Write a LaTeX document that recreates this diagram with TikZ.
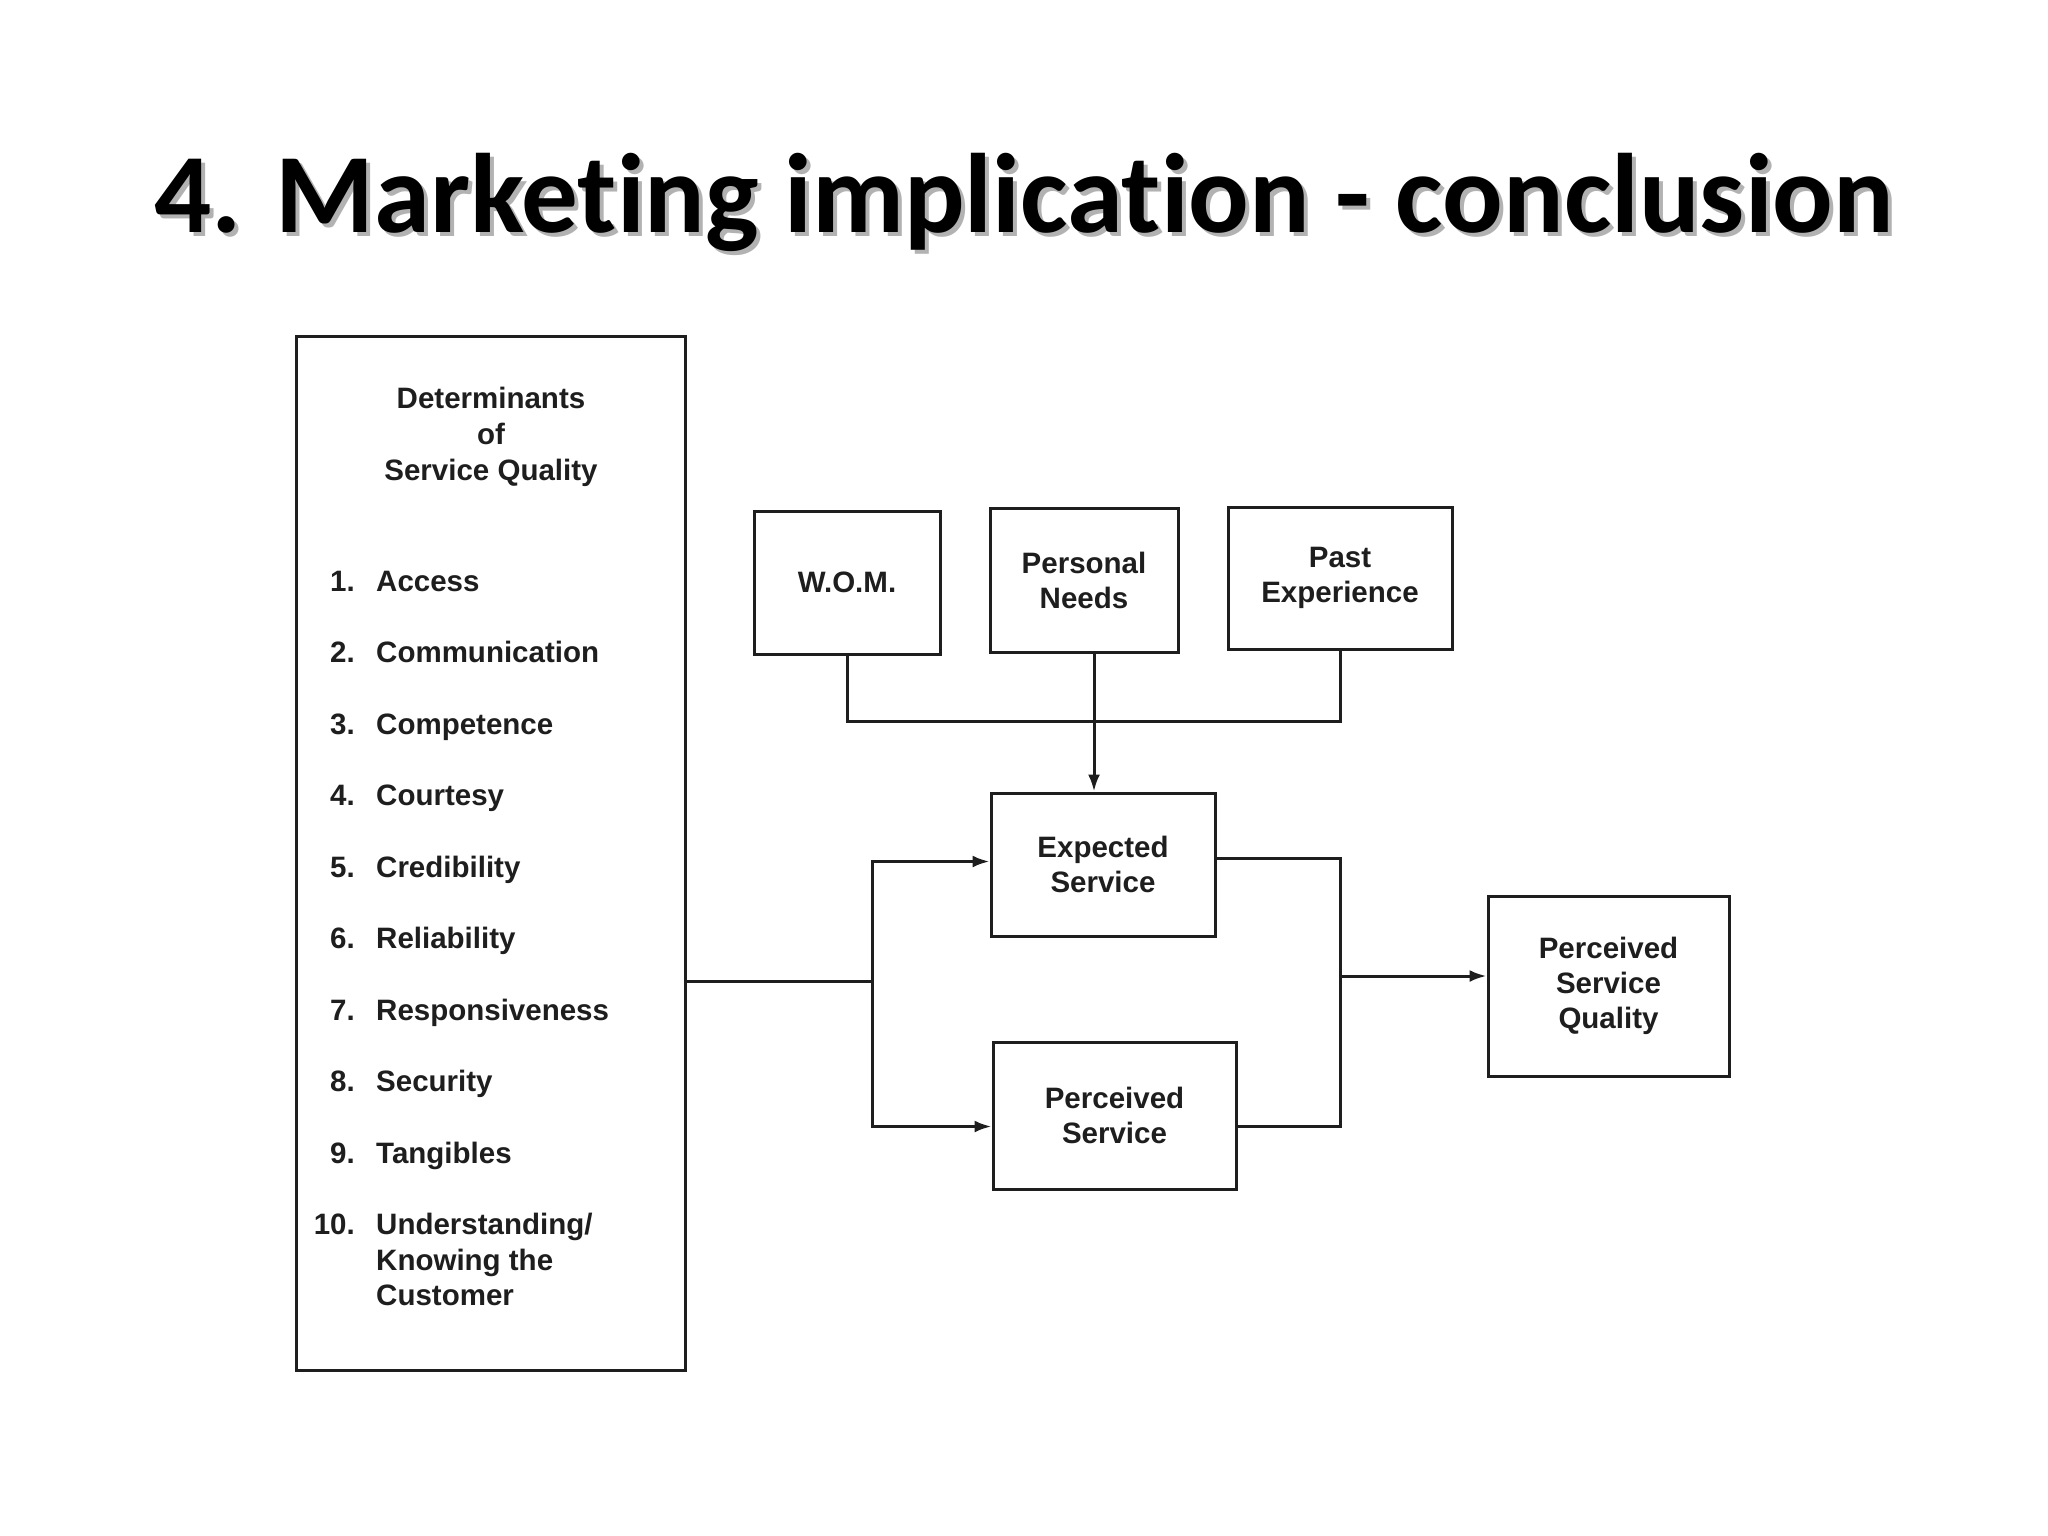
\documentclass[tikz,border=0pt]{standalone}
\usepackage{fontspec}
\setmainfont{Liberation Sans}
\newfontfamily\titlefont[Ligatures=NoCommon]{Carlito}
\usetikzlibrary{arrows.meta}
\definecolor{ink}{RGB}{30,30,30}
\begin{document}
\begin{tikzpicture}[x=1pt,y=-1pt,
  box/.style={draw=ink, line width=3pt, inner sep=0pt},
  lbl/.style={font=\fontsize{29.5}{35}\selectfont\bfseries, text=ink, align=center},
  item/.style={font=\fontsize{29.5}{35}\selectfont\bfseries, text=ink, inner sep=0pt},
  conn/.style={draw=ink, line width=3pt},
  arr/.style={conn, -{Latex[length=17pt,width=12pt]}},
  ttl/.style={font=\titlefont\fontsize{113}{130}\selectfont\bfseries, inner sep=0pt, anchor=base}
]
\useasboundingbox (0,0) rectangle (2048,1536);
\fill[white] (0,0) rectangle (2048,1536);

% title with soft shadow
\node[ttl, text=black!30] (titleshadow) at (1028,236) {4. Marketing implication - conclusion};
\node[ttl, text=black] (title) at (1024,232) {4. Marketing implication - conclusion};

% determinants box
\node[box, minimum width=389pt, minimum height=1034pt] (det) at (490.5,853) {};
\node[lbl, align=center, font=\fontsize{29.5}{36}\selectfont\bfseries] (dethead) at (491,437) {Determinants\\of\\Service Quality};
\foreach \n/\t [count=\i] in {1./Access,2./Communication,3./Competence,4./Courtesy,5./Credibility,6./Reliability,7./Responsiveness,8./Security,9./Tangibles} {
  \node[item, anchor=base east] (num\i) at (355,{591+71.5*(\i-1)}) {\n};
  \node[item, anchor=base west] (txt\i) at (376,{591+71.5*(\i-1)}) {\t};
}
\node[item, anchor=base east] (num10) at (355,1234.5) {10.};
\node[item, anchor=base west] (txt10) at (376,1234.5) {Understanding/};
\node[item, anchor=base west] (txt10b) at (376,1270) {Knowing the};
\node[item, anchor=base west] (txt10c) at (376,1305.5) {Customer};

% antecedent boxes
\node[box, lbl, minimum width=186pt, minimum height=143pt] (wom) at (847,582.5) {W.O.M.};
\node[box, lbl, minimum width=188pt, minimum height=144pt] (pn) at (1084,580) {Personal\\Needs};
\node[box, lbl, minimum width=224pt, minimum height=142pt] (past) at (1340,578) {Past\\Experience};

% service boxes
\node[box, lbl, minimum width=224pt, minimum height=143pt] (es) at (1103,864.5) {Expected\\Service};
\node[box, lbl, minimum width=243pt, minimum height=147pt] (ps) at (1114.5,1115.5) {Perceived\\Service};
\node[box, lbl, minimum width=241pt, minimum height=180pt] (psq) at (1608.5,986) {Perceived\\Service\\Quality};

% top connectors
\draw[conn] (wom.south) -- ++(0,66) -| (past.south);
\draw[arr] ([xshift=10pt]pn.south) -- ([xshift=10pt]pn.south |- es.north);

% left split
\coordinate (split) at (872,981);
\draw[conn] (det.east |- split) -- (split);
\draw[arr] (split) |- ([yshift=3pt]es.west);
\draw[arr] (split) |- ([yshift=-11pt]ps.west);

% right merge
\coordinate (rtop) at (1340,858);
\coordinate (rbot) at (1340,1126);
\coordinate (merge) at (1340,976);
\draw[conn] ([yshift=6.5pt]es.east) -- (rtop) -- (rbot) -- ([yshift=-10.5pt]ps.east);
\draw[arr] (merge) -- (psq.west |- merge);
\end{tikzpicture}
\end{document}
